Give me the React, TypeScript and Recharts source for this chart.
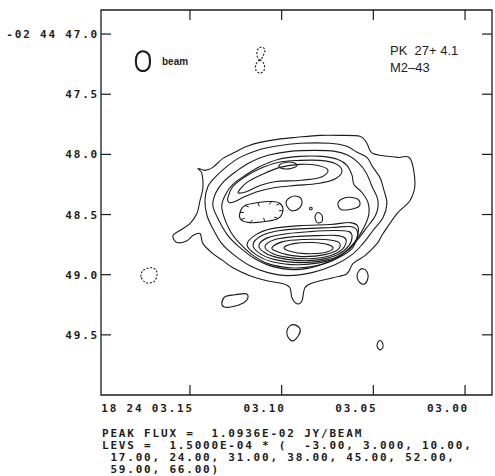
import React from 'react';
import { ComposedChart, Line, XAxis, YAxis, ReferenceArea } from 'recharts';

// RA seconds (18h24m) and Dec arcsec (-02 44)
const raTicks = [3.15, 3.1, 3.05, 3.0];
const raTickLabels = ['18 24 03.15', '03.10', '03.05', '03.00'];
const decTicks = [47.0, 47.5, 48.0, 48.5, 49.0, 49.5];
const decTickLabels = ['-02 44 47.0', '47.5', '48.0', '48.5', '49.0', '49.5'];
const raDomain = [2.9853, 3.1985];
const decDomain = [46.8, 50.0];

type Pt = [number, number];

// level 3
const level3Outer: Pt[] = [
  [3.1456, 48.117], [3.1418, 48.133], [3.1375, 48.108], [3.132, 48.033], [3.1255, 47.983], [3.1189, 47.933],
  [3.1118, 47.9], [3.1025, 47.875], [3.0916, 47.858], [3.0791, 47.842], [3.0682, 47.842], [3.0573, 47.85],
  [3.0535, 47.908], [3.0502, 47.992], [3.0371, 48.025], [3.03, 48.033], [3.0273, 48.242], [3.03, 48.383],
  [3.0371, 48.492], [3.0447, 48.658], [3.048, 48.742], [3.0546, 48.842], [3.0611, 48.908], [3.0644, 48.992],
  [3.072, 49.025], [3.0829, 49.067], [3.0873, 49.108], [3.0889, 49.217], [3.0916, 49.242], [3.0944, 49.192],
  [3.0955, 49.108], [3.0993, 49.075], [3.108, 49.05], [3.1173, 49.008], [3.1266, 48.942], [3.132, 48.883],
  [3.1375, 48.825], [3.1429, 48.742], [3.1445, 48.658], [3.1484, 48.675], [3.1516, 48.717], [3.1571, 48.733],
  [3.1593, 48.675], [3.1555, 48.633], [3.15, 48.575], [3.1462, 48.492], [3.1445, 48.383], [3.1429, 48.275],
  [3.1435, 48.158],
];
const level3IslandSW: Pt[] = [
  [3.1326, 49.233], [3.1309, 49.183], [3.1255, 49.167], [3.1195, 49.158], [3.1184, 49.192], [3.1206, 49.233],
  [3.1271, 49.267], [3.1315, 49.267],
];
const level3IslandS: Pt[] = [
  [3.0971, 49.467], [3.0955, 49.425], [3.0927, 49.417], [3.09, 49.45], [3.0906, 49.5], [3.0938, 49.55], [3.0966, 49.517],
];
const level3IslandE: Pt[] = [
  [3.0589, 49.017], [3.0578, 48.967], [3.0557, 48.95], [3.0535, 48.975], [3.0529, 49.025], [3.0546, 49.075], [3.0573, 49.067],
];
const level3IslandSE: Pt[] = [
  [3.048, 49.592], [3.0469, 49.55], [3.0453, 49.558], [3.0447, 49.6], [3.0464, 49.625],
];

// level 10
const level10: Pt[] = [
  [3.1418, 48.383], [3.1402, 48.267], [3.1358, 48.183], [3.1298, 48.1], [3.1227, 48.025], [3.1135, 47.967],
  [3.1036, 47.933], [3.09, 47.908], [3.0736, 47.908], [3.0644, 47.933], [3.0589, 47.983], [3.0535, 48.025],
  [3.0502, 48.108], [3.0464, 48.192], [3.0442, 48.3], [3.0426, 48.408], [3.0447, 48.525], [3.0502, 48.633],
  [3.0557, 48.742], [3.0616, 48.833], [3.0709, 48.917], [3.0835, 48.983], [3.0966, 49.008], [3.1075, 48.983],
  [3.1173, 48.925], [3.1255, 48.842], [3.1326, 48.742], [3.1375, 48.617], [3.1407, 48.508],
];

// level 17
const level17: Pt[] = [
  [3.1375, 48.425], [3.1358, 48.317], [3.1315, 48.225], [3.1249, 48.142], [3.1173, 48.067], [3.1075, 48.008],
  [3.0955, 47.975], [3.0818, 47.967], [3.0709, 47.975], [3.0638, 48.008], [3.0584, 48.067], [3.054, 48.15],
  [3.0507, 48.267], [3.0475, 48.383], [3.0486, 48.5], [3.054, 48.617], [3.06, 48.733], [3.0682, 48.842],
  [3.0802, 48.925], [3.0927, 48.958], [3.1047, 48.933], [3.1146, 48.867], [3.1227, 48.775], [3.1293, 48.675],
  [3.1342, 48.55],
];

// level 24
const level24: Pt[] = [
  [3.1326, 48.45], [3.1309, 48.342], [3.1266, 48.25], [3.12, 48.175], [3.1118, 48.1], [3.102, 48.042],
  [3.09, 48.017], [3.078, 48.017], [3.0693, 48.042], [3.0644, 48.092], [3.0616, 48.175], [3.0606, 48.25],
  [3.0562, 48.317], [3.0529, 48.4], [3.0524, 48.492], [3.0546, 48.592], [3.0584, 48.692], [3.0638, 48.792],
  [3.072, 48.883], [3.0835, 48.933], [3.0955, 48.942], [3.1075, 48.908], [3.1162, 48.833], [3.1227, 48.742],
  [3.1282, 48.633],
];
const level24Depression: Pt[] = [
  [3.1227, 48.483], [3.12, 48.425], [3.1129, 48.4], [3.1053, 48.392], [3.1009, 48.408], [3.0993, 48.467],
  [3.102, 48.533], [3.1091, 48.558], [3.1173, 48.567], [3.1222, 48.542],
];
const level24Knot: Pt[] = [
  [3.0976, 48.408], [3.0955, 48.358], [3.0911, 48.35], [3.0889, 48.392], [3.0906, 48.45], [3.0949, 48.467],
];
const level24Spot: Pt[] = [
  [3.0818, 48.517], [3.0802, 48.483], [3.078, 48.508], [3.078, 48.558], [3.0807, 48.567],
];
const level24Dot: Pt[] = [
  [3.0846, 48.442], [3.0835, 48.442], [3.0835, 48.458], [3.0846, 48.458],
];
const level31East: Pt[] = [
  [3.0693, 48.408], [3.0666, 48.367], [3.0616, 48.358], [3.0578, 48.383], [3.0578, 48.433], [3.0627, 48.458],
  [3.0677, 48.458],
];

// northern rim
const level31North: Pt[] = [
  [3.1293, 48.358], [3.1266, 48.267], [3.1206, 48.192], [3.1129, 48.125], [3.102, 48.067], [3.09, 48.05],
  [3.0791, 48.05], [3.0709, 48.075], [3.0671, 48.133], [3.0704, 48.2], [3.0802, 48.242], [3.0922, 48.258],
  [3.1036, 48.275], [3.1129, 48.308], [3.12, 48.35], [3.1255, 48.392], [3.1287, 48.4],
];
const level38North: Pt[] = [
  [3.1238, 48.317], [3.1189, 48.233], [3.1107, 48.167], [3.1009, 48.108], [3.09, 48.083], [3.0802, 48.092],
  [3.0747, 48.133], [3.0791, 48.192], [3.0911, 48.217], [3.1031, 48.225], [3.1118, 48.258], [3.1189, 48.308],
];
const level45North: Pt[] = [
  [3.1015, 48.092], [3.0982, 48.067], [3.0938, 48.067], [3.0916, 48.092], [3.0949, 48.117], [3.0998, 48.117],
];

// southern rim
const level31South: Pt[] = [
  [3.1189, 48.75], [3.114, 48.667], [3.1053, 48.617], [3.09, 48.592], [3.0736, 48.583], [3.0627, 48.567],
  [3.0584, 48.6], [3.0589, 48.692], [3.0622, 48.792], [3.072, 48.875], [3.09, 48.917], [3.1053, 48.892],
  [3.114, 48.833],
];
const level38South: Pt[] = [
  [3.1156, 48.75], [3.1107, 48.675], [3.1009, 48.633], [3.0873, 48.617], [3.0725, 48.608], [3.0627, 48.6],
  [3.0589, 48.633], [3.0595, 48.717], [3.0649, 48.808], [3.0747, 48.875], [3.09, 48.9], [3.1036, 48.875],
  [3.1118, 48.825],
];
const level45South: Pt[] = [
  [3.1124, 48.758], [3.1075, 48.692], [3.0966, 48.658], [3.0846, 48.642], [3.0709, 48.633], [3.0633, 48.642],
  [3.0616, 48.683], [3.0633, 48.758], [3.0693, 48.833], [3.0791, 48.875], [3.0911, 48.883], [3.102, 48.858],
  [3.1091, 48.817],
];
const level52South: Pt[] = [
  [3.1091, 48.767], [3.1036, 48.708], [3.0927, 48.683], [3.0802, 48.675], [3.0693, 48.675], [3.0649, 48.708],
  [3.0666, 48.783], [3.0736, 48.842], [3.0846, 48.867], [3.0955, 48.858], [3.1047, 48.825],
];
const level59South: Pt[] = [
  [3.1053, 48.775], [3.0993, 48.725], [3.0884, 48.708], [3.0764, 48.708], [3.0687, 48.733], [3.0693, 48.792],
  [3.0764, 48.833], [3.0873, 48.85], [3.0971, 48.833], [3.1025, 48.808],
];
const level66South: Pt[] = [
  [3.0987, 48.775], [3.0933, 48.742], [3.0835, 48.733], [3.0747, 48.75], [3.072, 48.783], [3.0769, 48.817],
  [3.0873, 48.825], [3.0949, 48.808],
];

// level -3 (dashed)
const negWest: Pt[] = [
  [3.1767, 49.017], [3.1757, 48.967], [3.1718, 48.942], [3.1686, 48.958], [3.168, 49.008], [3.1697, 49.058], [3.174, 49.067],
];
const negNorthUpper: Pt[] = [
  [3.1118, 47.217], [3.1135, 47.175], [3.1129, 47.125], [3.1107, 47.108], [3.1091, 47.133], [3.1102, 47.183],
];
const negNorthLower: Pt[] = [
  [3.1118, 47.217], [3.114, 47.25], [3.114, 47.3], [3.1118, 47.325], [3.1096, 47.3], [3.1096, 47.25],
];

// beam
const beamShape: Pt[] = [
  [3.1795, 47.225], [3.1786, 47.167], [3.1757, 47.142], [3.1726, 47.167], [3.1718, 47.225], [3.1726, 47.283],
  [3.1757, 47.308], [3.1786, 47.283],
];

const footerLines = [
  'PEAK FLUX =  1.0936E-02 JY/BEAM',
  'LEVS =  1.5000E-04 * (  -3.00, 3.000, 10.00,',
  ' 17.00, 24.00, 31.00, 38.00, 45.00, 52.00,',
  ' 59.00, 66.00)',
];

const INK = '#1c1c1c';
const W = 495;
const H = 476;
const MARGIN = { top: 10, right: 3, bottom: 51, left: 0 };
const Y_AXIS_W = 101;
const X_AXIS_H = 30;
const PLOT_W = W - Y_AXIS_W - MARGIN.right;
const PLOT_H = H - MARGIN.top - MARGIN.bottom - X_AXIS_H;

const monoFont: React.CSSProperties = {
  fontFamily: '"DejaVu Sans Mono", monospace',
  fontSize: 11,
  fontWeight: 'bold',
  letterSpacing: 1.8,
  whiteSpace: 'pre',
};

const contours = [
  { id: 'c3', pts: level3Outer },
  { id: 'c3a', pts: level3IslandSW },
  { id: 'c3b', pts: level3IslandS },
  { id: 'c3c', pts: level3IslandE },
  { id: 'c3d', pts: level3IslandSE },
  { id: 'c10', pts: level10 },
  { id: 'c17', pts: level17 },
  { id: 'c24', pts: level24 },
  { id: 'c24d', pts: level24Depression, hatch: true },
  { id: 'c24k', pts: level24Knot },
  { id: 'c24s', pts: level24Spot },
  { id: 'c24p', pts: level24Dot },
  { id: 'c31e', pts: level31East },
  { id: 'c31n', pts: level31North },
  { id: 'c38n', pts: level38North },
  { id: 'c45n', pts: level45North },
  { id: 'c31s', pts: level31South },
  { id: 'c38s', pts: level38South },
  { id: 'c45s', pts: level45South },
  { id: 'c52s', pts: level52South },
  { id: 'c59s', pts: level59South },
  { id: 'c66s', pts: level66South },
  { id: 'n1', pts: negWest, dashed: true },
  { id: 'n2', pts: negNorthUpper, dashed: true },
  { id: 'n3', pts: negNorthLower, dashed: true },
  { id: 'beam', pts: beamShape, width: 2 },
];

// closed Catmull-Rom curve so contours pass through the read points
const closedSmooth = (context: any) => {
  let pts: number[][] = [];
  return {
    areaStart() {},
    areaEnd() {},
    lineStart() {
      pts = [];
    },
    point(x: number, y: number) {
      pts.push([+x, +y]);
    },
    lineEnd() {
      const n = pts.length;
      if (!n) return;
      context.moveTo(pts[0][0], pts[0][1]);
      for (let i = 0; i < n; i++) {
        const p0 = pts[(i - 1 + n) % n];
        const p1 = pts[i];
        const p2 = pts[(i + 1) % n];
        const p3 = pts[(i + 2) % n];
        const t = 1 / 6;
        context.bezierCurveTo(
          p1[0] + (p2[0] - p0[0]) * t,
          p1[1] + (p2[1] - p0[1]) * t,
          p2[0] - (p3[0] - p1[0]) * t,
          p2[1] - (p3[1] - p1[1]) * t,
          p2[0],
          p2[1]
        );
      }
      context.closePath();
    },
  };
};

const hatchDot = (props: any) => {
  const { cx, cy, points, index } = props;
  if (!points || !points.length) return <g key={`h${index}`} />;
  const mx = points.reduce((s: number, p: any) => s + p.x, 0) / points.length;
  const my = points.reduce((s: number, p: any) => s + p.y, 0) / points.length;
  const dx = mx - cx;
  const dy = my - cy;
  const len = Math.hypot(dx, dy) || 1;
  return (
    <line key={`h${index}`} x1={cx} y1={cy} x2={cx + (dx / len) * 4} y2={cy + (dy / len) * 4} stroke={INK} strokeWidth={1} />
  );
};

const findLabel = (ticks: number[], labels: string[], v: number) => {
  const i = ticks.findIndex((t) => Math.abs(t - v) < 1e-9);
  return i >= 0 ? labels[i] : '';
};

const RaTick = (props: any) => {
  const { x, y, payload } = props;
  return (
    <g>
      <line x1={x} y1={y} x2={x} y2={y - 10} stroke={INK} strokeWidth={1.2} />
      <line x1={x} y1={y - PLOT_H} x2={x} y2={y - PLOT_H + 10} stroke={INK} strokeWidth={1.2} />
      <text x={x + 4} y={y + 17} textAnchor="end" fill={INK} style={monoFont}>
        {findLabel(raTicks, raTickLabels, payload.value)}
      </text>
    </g>
  );
};

const DecTick = (props: any) => {
  const { x, y, payload } = props;
  return (
    <g>
      <line x1={x} y1={y} x2={x + 10} y2={y} stroke={INK} strokeWidth={1.2} />
      <line x1={x + PLOT_W} y1={y} x2={x + PLOT_W - 10} y2={y} stroke={INK} strokeWidth={1.2} />
      <text x={x - 2} y={y + 4} textAnchor="end" fill={INK} style={monoFont}>
        {findLabel(decTicks, decTickLabels, payload.value)}
      </text>
    </g>
  );
};

const App: React.FC = () => {
  return (
    <div style={{ position: 'absolute', left: 0, top: 0, width: W, height: H, background: '#fff' }}>
      <ComposedChart width={W} height={H} margin={MARGIN}>
        <XAxis
          dataKey="ra"
          type="number"
          domain={raDomain}
          reversed
          allowDataOverflow
          ticks={raTicks}
          interval={0}
          height={X_AXIS_H}
          tickSize={0}
          tickMargin={0}
          tickLine={false}
          axisLine={false}
          tick={<RaTick />}
        />
        <YAxis
          type="number"
          domain={decDomain}
          reversed
          allowDataOverflow
          ticks={decTicks}
          interval={0}
          width={Y_AXIS_W}
          tickSize={0}
          tickMargin={0}
          tickLine={false}
          axisLine={false}
          tick={<DecTick />}
        />
        <ReferenceArea
          x1={raDomain[0]}
          x2={raDomain[1]}
          y1={decDomain[0]}
          y2={decDomain[1]}
          fill="none"
          fillOpacity={0}
          stroke={INK}
          strokeWidth={1.3}
          ifOverflow="visible"
        />
        {contours.map((c) => (
          <Line
            key={c.id}
            data={c.pts.map(([ra, dec]) => ({ ra, dec }))}
            dataKey="dec"
            type={closedSmooth as any}
            stroke={INK}
            strokeWidth={c.width ?? 1.1}
            strokeDasharray={c.dashed ? '2 1.6' : undefined}
            dot={c.hatch ? hatchDot : false}
            activeDot={false}
            isAnimationActive={false}
            legendType="none"
          />
        ))}
      </ComposedChart>
      <svg width={W} height={H} style={{ position: 'absolute', left: 0, top: 0, pointerEvents: 'none' }}>
        <text x={162} y={65} fill={INK} style={{ fontFamily: '"Liberation Sans", sans-serif', fontSize: 10, fontWeight: 'bold' }}>
          beam
        </text>
        <text x={390} y={55} fill={INK} style={{ fontFamily: '"Liberation Sans", sans-serif', fontSize: 13, whiteSpace: 'pre' }}>
          PK  27+ 4.1
        </text>
        <text x={390} y={72} fill={INK} style={{ fontFamily: '"Liberation Sans", sans-serif', fontSize: 13 }}>
          M2–43
        </text>
        {footerLines.map((line, i) => (
          <text key={i} x={102} y={437 + i * 12} fill={INK} style={monoFont}>
            {line}
          </text>
        ))}
      </svg>
    </div>
  );
};

export default App;
